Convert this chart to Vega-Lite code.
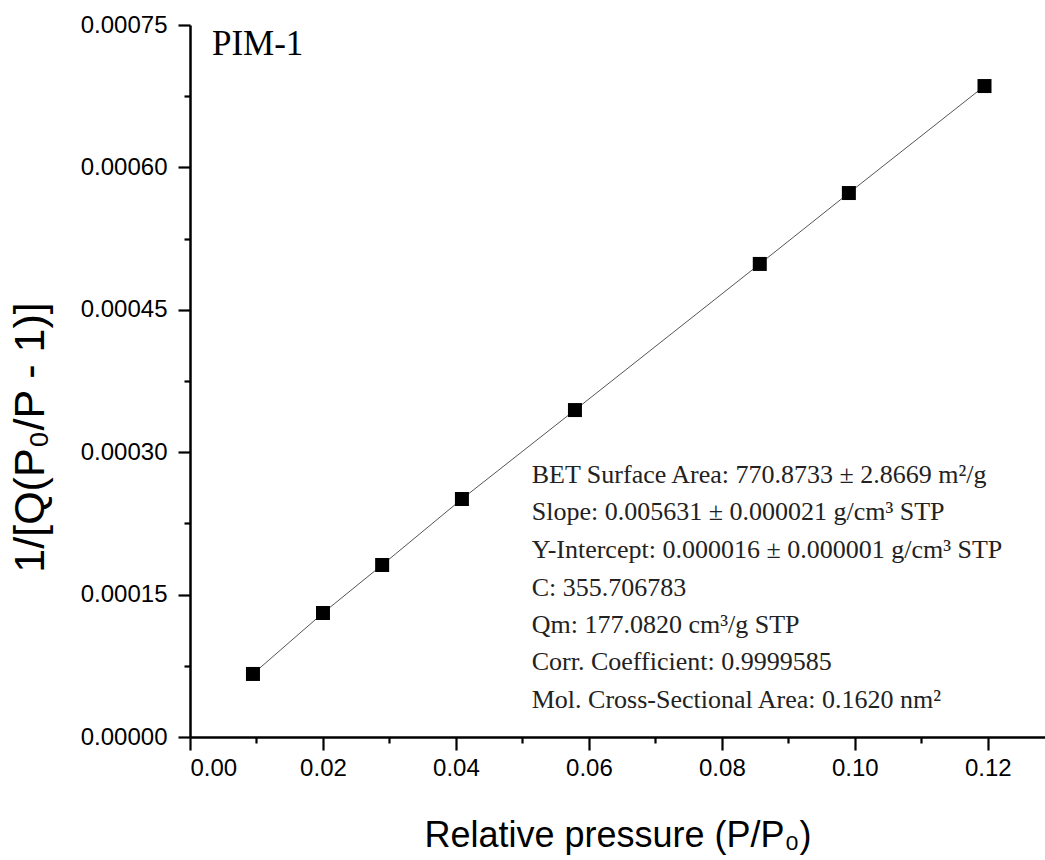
{
  "$schema": "https://vega.github.io/schema/vega-lite/v6.json",
  "width": 855,
  "height": 712,
  "autosize": {"type": "none"},
  "padding": {"left": 190, "top": 25, "right": 0, "bottom": 123},
  "background": "white",
  "config": {"view": {"stroke": null}},
  "datasets": {
    "pts": [
      {"p": 0.00947, "v": 0.0000664},
      {"p": 0.0200, "v": 0.0001306},
      {"p": 0.0289, "v": 0.0001812},
      {"p": 0.0409, "v": 0.0002507},
      {"p": 0.0579, "v": 0.0003444},
      {"p": 0.0857, "v": 0.0004983},
      {"p": 0.0991, "v": 0.000573},
      {"p": 0.1195, "v": 0.0006857}
    ],
    "notes": [
      {"p": 0.0514, "v": 0.00026756, "t": "BET Surface Area: 770.8733 ± 2.8669 m²/g"},
      {"p": 0.0514, "v": 0.00022806, "t": "Slope: 0.005631 ± 0.000021 g/cm³ STP"},
      {"p": 0.0514, "v": 0.00018855, "t": "Y-Intercept: 0.000016 ± 0.000001 g/cm³ STP"},
      {"p": 0.0514, "v": 0.00014905, "t": "C: 355.706783"},
      {"p": 0.0514, "v": 0.00010955, "t": "Qm: 177.0820 cm³/g STP"},
      {"p": 0.0514, "v": 0.00007005, "t": "Corr. Coefficient: 0.9999585"},
      {"p": 0.0514, "v": 0.00003055, "t": "Mol. Cross-Sectional Area: 0.1620 nm²"}
    ],
    "label": [
      {"p": 0.0033, "v": 0.0007184, "t": "PIM-1"}
    ]
  },
  "encoding": {
    "x": {
      "field": "p", "type": "quantitative",
      "scale": {"domain": [0, 0.1286], "nice": false, "zero": false},
      "axis": {
        "title": "Relative pressure (P/P₀)",
        "values": [0, 0.01, 0.02, 0.03, 0.04, 0.05, 0.06, 0.07, 0.08, 0.09, 0.10, 0.11, 0.12],
        "labelExpr": "round(datum.value*100) % 2 == 0 ? format(datum.value, '.2f') : ''",
        "tickSize": {"condition": {"test": "round(datum.value*100) % 2 == 0", "value": 13}, "value": 6},
        "grid": false,
        "domainColor": "black", "domainWidth": 2.5,
        "tickColor": "black", "tickWidth": 2.2,
        "labelFont": "Liberation Sans", "labelFontSize": 24, "labelColor": "black",
        "labelPadding": 6,
        "titleFont": "Liberation Sans", "titleFontSize": 36, "titleFontWeight": "normal", "titleColor": "black",
        "titleBaseline": "alphabetic",
        "titleY": 109
      }
    },
    "y": {
      "field": "v", "type": "quantitative",
      "scale": {"domain": [0, 0.00075], "nice": false, "zero": false},
      "axis": {
        "title": "1/[Q(P₀/P - 1)]",
        "values": [0, 0.000075, 0.00015, 0.000225, 0.0003, 0.000375, 0.00045, 0.000525, 0.0006, 0.000675, 0.00075],
        "labelExpr": "round(datum.value/0.000075) % 2 == 0 ? format(datum.value, '.5f') : ''",
        "tickSize": {"condition": {"test": "round(datum.value/0.000075) % 2 == 0", "value": 12}, "value": 6},
        "grid": false,
        "domainColor": "black", "domainWidth": 2.5,
        "tickColor": "black", "tickWidth": 2.2,
        "labelFont": "Liberation Sans", "labelFontSize": 24, "labelColor": "black",
        "labelPadding": 11,
        "titleFont": "Liberation Sans", "titleFontSize": 43, "titleFontWeight": "normal", "titleColor": "black",
        "titleBaseline": "middle",
        "titleX": -160,
        "titleY": 412
      }
    }
  },
  "layer": [
    {
      "data": {"name": "pts"},
      "mark": {"type": "line", "color": "#555555", "strokeWidth": 1},
      "encoding": {}
    },
    {
      "data": {"name": "pts"},
      "mark": {"type": "point", "shape": "square", "filled": true, "color": "black", "opacity": 1, "size": 196}
    },
    {
      "data": {"name": "notes"},
      "mark": {"type": "text", "align": "left", "baseline": "alphabetic", "font": "Liberation Serif", "fontSize": 26, "color": "#222222"},
      "encoding": {"text": {"field": "t"}}
    },
    {
      "data": {"name": "label"},
      "mark": {"type": "text", "align": "left", "baseline": "alphabetic", "font": "Liberation Serif", "fontSize": 35, "color": "black"},
      "encoding": {"text": {"field": "t"}}
    }
  ]
}
